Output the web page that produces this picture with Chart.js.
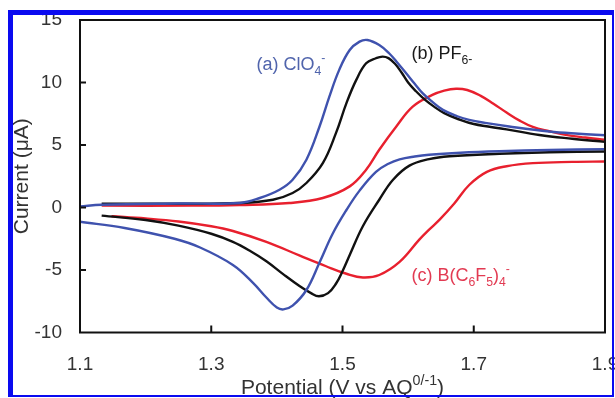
<!DOCTYPE html>
<html lang="en">
<head>
  <meta charset="UTF-8" />
  <title>Cyclic voltammograms</title>
  <script src="https://cdn.jsdelivr.net/npm/chart.js"></script>
  <style>
    body {
      margin: 0;
      background: white;
    }
    #wrap {
      position: relative;
      width: 615px;
      height: 398px;
      overflow: hidden;
    }
    canvas {
      position: absolute;
      left: 0;
      top: 0;
    }
    .frame {
      position: absolute;
      left: 8px;
      top: 10px;
      width: 606px;
      height: 387px;
      box-sizing: border-box;
      border-style: solid;
      border-color: #0a0af0;
      border-width: 5px 2px 2px 5px;
      pointer-events: none;
    }
  </style>
</head>
<body>

  <div id="wrap">
    <canvas id="cvChart" width="615" height="398"></canvas>
    <div class="frame"></div>
  </div>

  <script>
    // ------------------ Data ------------------
    // forward scan = upper branch, reverse scan = lower branch, both listed by rising potential
    const clo4FwdV = [1.100, 1.133, 1.250, 1.343, 1.374, 1.404, 1.424, 1.445, 1.465, 1.480, 1.495, 1.511, 1.526, 1.538, 1.556, 1.571, 1.585, 1.597, 1.610, 1.622, 1.637, 1.653, 1.675, 1.693, 1.720, 1.754, 1.815, 1.860, 1.900];
    const clo4FwdI = [0.09, 0.22, 0.32, 0.36, 0.76, 1.42, 2.22, 3.82, 6.48, 8.87, 11.01, 12.60, 13.27, 13.40, 13.00, 12.34, 11.50, 10.74, 9.90, 9.15, 8.45, 7.81, 7.30, 7.01, 6.75, 6.48, 6.08, 5.90, 5.78];
    const clo4RevV = [1.100, 1.168, 1.244, 1.283, 1.333, 1.364, 1.384, 1.400, 1.410, 1.424, 1.445, 1.465, 1.485, 1.506, 1.526, 1.551, 1.570, 1.587, 1.610, 1.632, 1.680, 1.739, 1.815, 1.900];
    const clo4RevI = [-1.14, -1.64, -2.50, -3.20, -4.60, -6.05, -7.20, -8.00, -8.15, -7.85, -6.60, -4.40, -2.10, -0.20, 1.35, 2.85, 3.50, 3.85, 4.08, 4.22, 4.38, 4.50, 4.60, 4.67];

    const pf6FwdV = [1.133, 1.250, 1.343, 1.394, 1.424, 1.445, 1.470, 1.490, 1.506, 1.521, 1.536, 1.551, 1.561, 1.570, 1.580, 1.590, 1.600, 1.612, 1.625, 1.640, 1.655, 1.675, 1.700, 1.750, 1.800, 1.850, 1.900];
    const pf6FwdI = [0.30, 0.30, 0.36, 0.62, 1.16, 1.96, 3.55, 5.95, 8.35, 10.21, 11.54, 11.94, 12.07, 11.95, 11.50, 10.80, 10.00, 9.30, 8.65, 8.05, 7.55, 7.10, 6.68, 6.25, 5.80, 5.50, 5.25];
    const pf6RevV = [1.133, 1.200, 1.250, 1.300, 1.333, 1.360, 1.384, 1.410, 1.435, 1.452, 1.464, 1.478, 1.490, 1.500, 1.511, 1.531, 1.556, 1.577, 1.602, 1.632, 1.663, 1.739, 1.815, 1.900];
    const pf6RevI = [-0.65, -1.00, -1.45, -2.10, -2.75, -3.50, -4.30, -5.35, -6.30, -6.85, -7.10, -6.85, -6.10, -5.10, -3.80, -1.50, 0.62, 2.22, 3.35, 3.87, 4.10, 4.30, 4.42, 4.48];

    const bcfFwdV = [1.133, 1.270, 1.343, 1.419, 1.470, 1.511, 1.536, 1.556, 1.582, 1.607, 1.637, 1.655, 1.673, 1.690, 1.710, 1.730, 1.750, 1.770, 1.790, 1.815, 1.840, 1.870, 1.900];
    const bcfFwdI = [0.15, 0.15, 0.20, 0.36, 0.76, 1.69, 3.02, 4.62, 6.48, 8.07, 9.01, 9.35, 9.50, 9.40, 8.95, 8.30, 7.60, 6.95, 6.45, 6.10, 5.81, 5.60, 5.42];
    const bcfRevV = [1.148, 1.200, 1.250, 1.300, 1.333, 1.384, 1.435, 1.475, 1.506, 1.531, 1.556, 1.587, 1.617, 1.632, 1.648, 1.670, 1.693, 1.720, 1.750, 1.790, 1.850, 1.900];
    const bcfRevI = [-0.70, -0.88, -1.12, -1.50, -1.88, -2.75, -3.85, -4.70, -5.30, -5.60, -5.40, -4.35, -2.57, -1.77, -0.97, 0.30, 1.80, 2.85, 3.30, 3.55, 3.65, 3.68];

    const xTickValues = [1.1, 1.3, 1.5, 1.7, 1.9];
    const yTickValues = [-10, -5, 0, 5, 10, 15];

    // curve labels, anchored in data units (left end of the text baseline)
    const curveLabels = [
      { parts: [['(a) ClO'], ['4', 'sub'], ['-', 'sup']], at: [1.369, 11.0], color: '#5064ac' },
      { parts: [['(b) PF'], ['6', 'sub'], ['-', 'sub2']], at: [1.605, 11.85], color: '#1a1a1a' },
      { parts: [['(c) B(C'], ['6', 'sub'], ['F'], ['5', 'sub'], [')'], ['4', 'sub'], ['-', 'sup']], at: [1.605, -5.85], color: '#e23a52' }
    ];

    const BLUE = '#3f52ae', BLACK = '#111111', RED = '#e8202e';
    const FONT = 'Arial, "Liberation Sans", sans-serif';

    function toPoints(xs, ys) {
      return xs.map((x, i) => ({ x: x, y: ys[i] }));
    }

    // draws text made of normal / sub / superscript runs
    function drawRich(ctx, parts, x, y, size, align) {
      const runs = parts.map(p => {
        const small = p[1] ? size * 0.68 : size;
        ctx.font = small + 'px ' + FONT;
        let dy = 0;
        if (p[1] === 'sub') dy = size * 0.28;
        if (p[1] === 'sub2') dy = size * 0.18;
        if (p[1] === 'sup') dy = -size * 0.42;
        return { t: p[0], size: small, dy: dy, w: ctx.measureText(p[0]).width };
      });
      const total = runs.reduce((a, r) => a + r.w, 0);
      let cx = align === 'center' ? x - total / 2 : x;
      ctx.textAlign = 'left';
      ctx.textBaseline = 'alphabetic';
      runs.forEach(r => {
        ctx.font = r.size + 'px ' + FONT;
        ctx.fillText(r.t, cx, y + r.dy);
        cx += r.w;
      });
    }

    const decorations = {
      id: 'decorations',
      afterDraw(chart) {
        const { ctx, chartArea: a, scales: { x, y } } = chart;
        ctx.save();

        // plot box
        ctx.strokeStyle = '#111';
        ctx.lineWidth = 2;
        ctx.strokeRect(a.left, a.top, a.right - a.left, a.bottom - a.top);

        // inward tick marks
        ctx.beginPath();
        x.ticks.forEach(t => {
          const px = x.getPixelForValue(t.value);
          if (px <= a.left + 1 || px >= a.right - 1) return;
          ctx.moveTo(px, a.bottom);
          ctx.lineTo(px, a.bottom - 7);
        });
        y.ticks.forEach(t => {
          const py = y.getPixelForValue(t.value);
          if (py <= a.top + 1 || py >= a.bottom - 1) return;
          ctx.moveTo(a.left, py);
          ctx.lineTo(a.left + 6, py);
        });
        ctx.stroke();

        // curve labels
        curveLabels.forEach(l => {
          ctx.fillStyle = l.color;
          drawRich(ctx, l.parts, x.getPixelForValue(l.at[0]), y.getPixelForValue(l.at[1]), 18, 'left');
        });

        // x axis title with superscript
        ctx.fillStyle = '#333';
        drawRich(ctx, [['Potential (V vs AQ'], ['0/-1', 'sup'], [')']], (a.left + a.right) / 2, 394, 21, 'center');

        ctx.restore();
      }
    };

    const ctx = document.getElementById('cvChart').getContext('2d');
    new Chart(ctx, {
      type: 'scatter',
      data: {
        datasets: [
          { label: 'ClO4- forward', data: toPoints(clo4FwdV, clo4FwdI), borderColor: BLUE },
          { label: 'ClO4- reverse', data: toPoints(clo4RevV, clo4RevI), borderColor: BLUE },
          { label: 'PF6- forward', data: toPoints(pf6FwdV, pf6FwdI), borderColor: BLACK },
          { label: 'PF6- reverse', data: toPoints(pf6RevV, pf6RevI), borderColor: BLACK },
          { label: 'B(C6F5)4- forward', data: toPoints(bcfFwdV, bcfFwdI), borderColor: RED },
          { label: 'B(C6F5)4- reverse', data: toPoints(bcfRevV, bcfRevI), borderColor: RED }
        ]
      },
      options: {
        responsive: false,
        animation: false,
        devicePixelRatio: 1,
        datasets: {
          scatter: { showLine: true, pointRadius: 0, borderWidth: 2.4, tension: 0.4 }
        },
        layout: {
          autoPadding: false,
          padding: { left: 0, top: 20, right: 10, bottom: 0 }
        },
        plugins: {
          legend: { display: false },
          tooltip: { enabled: false }
        },
        scales: {
          x: {
            type: 'linear',
            min: 1.1,
            max: 1.9,
            afterBuildTicks: s => { s.ticks = xTickValues.map(v => ({ value: v })); },
            afterFit: s => { s.height = 65.5; s.paddingLeft = 0; s.paddingRight = 0; },
            grid: { display: false, drawTicks: false },
            border: { display: false },
            ticks: {
              padding: 21,
              color: '#333',
              font: { size: 19, family: FONT },
              callback: v => v.toFixed(1)
            }
          },
          y: {
            min: -10,
            max: 15,
            afterBuildTicks: s => { s.ticks = yTickValues.map(v => ({ value: v })); },
            afterFit: s => { s.width = 80; s.paddingTop = 0; s.paddingBottom = 0; },
            grid: { display: false, drawTicks: false },
            border: { display: false },
            title: {
              display: true,
              text: 'Current (\u03bcA)',
              color: '#333',
              font: { size: 21, family: FONT },
              padding: { top: 10, bottom: 0 }
            },
            ticks: {
              padding: 18,
              color: '#333',
              font: { size: 19, family: FONT }
            }
          }
        }
      },
      plugins: [decorations]
    });
  </script>

</body>
</html>
